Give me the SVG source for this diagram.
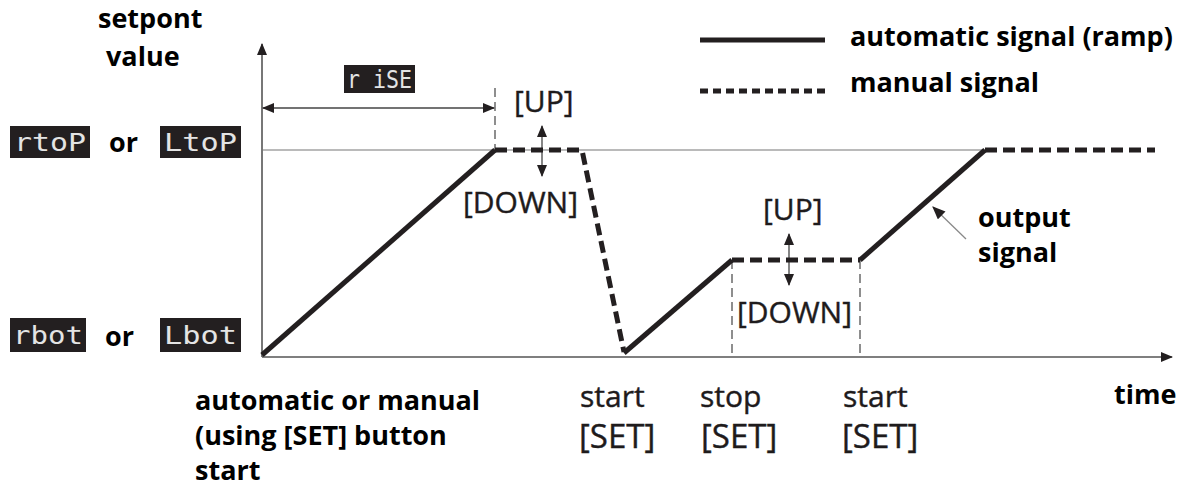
<svg xmlns="http://www.w3.org/2000/svg" width="1186" height="490" viewBox="0 0 1186 490">
  <defs>
    <marker id="arr" viewBox="0 0 12 10" refX="11" refY="5" markerWidth="12" markerHeight="10" markerUnits="userSpaceOnUse" orient="auto-start-reverse">
      <path d="M0,0 L12,5 L0,10 Z" fill="#231f20"/>
    </marker>
    <marker id="arrThin" viewBox="0 0 12 10" refX="11" refY="5" markerWidth="14" markerHeight="11" markerUnits="userSpaceOnUse" orient="auto">
      <path d="M0,0 L12,5 L0,10 Z" fill="#231f20"/>
    </marker>
    <style>
      .axis { stroke: #555; stroke-width: 1.6; fill: none; }
      .guide { stroke: #777; stroke-width: 1.2; fill: none; }
      .vdash { stroke: #444; stroke-width: 1.2; stroke-dasharray: 9 5; fill: none; }
      .auto { stroke: #231f20; stroke-width: 5; fill: none; stroke-linejoin: round; }
      .manual { stroke: #231f20; stroke-width: 5; fill: none; stroke-dasharray: 12 6; }
      .dim { stroke: #444; stroke-width: 1.3; fill: none; }
      .lbl { font-family: "Open Sans", "Liberation Sans", sans-serif; font-size: 30px; fill: #1e1b1c; stroke: #1e1b1c; stroke-width: 0.4; }
      .set { font-size: 33px; }
      .bold { font-family: "Open Sans", "Liberation Sans", sans-serif; font-size: 27px; font-weight: bold; fill: #000; }
      .segbox { fill: #231f20; }
      .seg { font-family: "DejaVu Sans Mono", "Liberation Mono", monospace; font-size: 25px; fill: #e4e4e4; }
    </style>
  </defs>

  <rect width="1186" height="490" fill="#fff"/>

  <!-- axes and guide lines -->
  <g id="connectors">
    <line class="axis" x1="262" y1="357" x2="262" y2="44" marker-end="url(#arr)"/>
    <line class="axis" x1="262" y1="357" x2="1172" y2="357" marker-end="url(#arr)"/>
    <line class="guide" x1="262" y1="150" x2="985" y2="150"/>
    <!-- rise time dimension -->
    <line class="vdash" x1="495" y1="88" x2="495" y2="150"/>
    <line class="dim" x1="263" y1="108" x2="494" y2="108" marker-start="url(#arr)" marker-end="url(#arr)"/>
    <!-- stop/start markers -->
    <line class="vdash" x1="732" y1="260" x2="732" y2="357"/>
    <line class="vdash" x1="860" y1="260" x2="860" y2="357"/>
    <!-- up/down arrows -->
    <line class="dim" x1="542" y1="126" x2="542" y2="176" marker-start="url(#arr)" marker-end="url(#arr)"/>
    <line class="dim" x1="789" y1="234" x2="789" y2="285" marker-start="url(#arr)" marker-end="url(#arr)"/>
    <!-- output signal pointer -->
    <line x1="966" y1="239" x2="933" y2="207" stroke="#888" stroke-width="1.3" marker-end="url(#arrThin)"/>
  </g>

  <!-- signal trace -->
  <g id="signal">
    <polyline class="auto" points="262,355 495,150"/>
    <polyline class="manual" points="495,150 582,150 624,352"/>
    <polyline class="auto" points="624,353 732,260"/>
    <polyline class="manual" points="732,260 860,260"/>
    <polyline class="auto" points="860,260 985,150"/>
    <polyline class="manual" points="985,150 1155,150"/>
  </g>

  <!-- legend -->
  <g id="legend">
    <line x1="700" y1="40" x2="825" y2="40" stroke="#231f20" stroke-width="5"/>
    <line x1="700" y1="91" x2="825" y2="91" stroke="#231f20" stroke-width="5" stroke-dasharray="8 5"/>
    <text class="bold" x="850" y="46">automatic signal (ramp)</text>
    <text class="bold" x="850" y="92">manual signal</text>
  </g>

  <!-- axis titles -->
  <g id="y-title">
    <text class="bold" x="98" y="28">setpont</text>
    <text class="bold" x="106" y="66">value</text>
  </g>
  <g id="x-title">
    <text class="bold" x="1114" y="404">time</text>
  </g>

  <!-- level codes -->
  <g id="top-level">
    <rect class="segbox" x="10" y="126" width="80" height="32"/>
    <text class="seg" x="14" y="151" textLength="72" lengthAdjust="spacingAndGlyphs">rtoP</text>
    <text class="bold" x="109" y="152">or</text>
    <rect class="segbox" x="160" y="126" width="81" height="32"/>
    <text class="seg" x="164" y="151" textLength="73" lengthAdjust="spacingAndGlyphs">LtoP</text>
  </g>
  <g id="bottom-level">
    <rect class="segbox" x="10" y="318" width="76" height="34"/>
    <text class="seg" x="13" y="344" textLength="70" lengthAdjust="spacingAndGlyphs">rbot</text>
    <text class="bold" x="105" y="346">or</text>
    <rect class="segbox" x="160" y="318" width="81" height="34"/>
    <text class="seg" x="164" y="344" textLength="73" lengthAdjust="spacingAndGlyphs">Lbot</text>
  </g>
  <g id="rise">
    <rect class="segbox" x="344" y="65" width="71" height="28"/>
    <text class="seg" x="347" y="88" textLength="65" lengthAdjust="spacingAndGlyphs">r iSE</text>
  </g>

  <!-- manual adjust labels -->
  <g id="adjust-1">
    <text class="lbl" x="514" y="112">[UP]</text>
    <text class="lbl" x="463" y="213">[DOWN]</text>
  </g>
  <g id="adjust-2">
    <text class="lbl" x="763" y="220">[UP]</text>
    <text class="lbl" x="737" y="323">[DOWN]</text>
  </g>

  <!-- output signal label -->
  <g id="output-label">
    <text class="bold" x="978" y="227">output</text>
    <text class="bold" x="978" y="262">signal</text>
  </g>

  <!-- button events -->
  <g id="event-start-1">
    <text class="lbl" x="580" y="407">start</text>
    <text class="lbl set" x="579" y="448">[SET]</text>
  </g>
  <g id="event-stop">
    <text class="lbl" x="700" y="407">stop</text>
    <text class="lbl set" x="701" y="448">[SET]</text>
  </g>
  <g id="event-start-2">
    <text class="lbl" x="843" y="407">start</text>
    <text class="lbl set" x="842" y="448">[SET]</text>
  </g>

  <!-- start mode note -->
  <g id="start-note">
    <text class="bold" x="195" y="410">automatic or manual</text>
    <text class="bold" x="195" y="445">(using [SET] button</text>
    <text class="bold" x="195" y="480">start</text>
  </g>
</svg>
